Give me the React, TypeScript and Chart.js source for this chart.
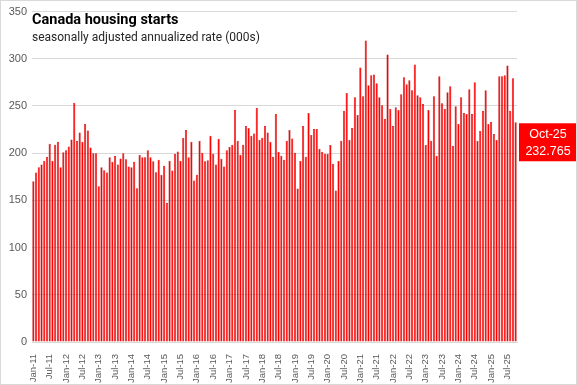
import React, { useEffect, useRef } from 'react';
import { Chart, registerables } from 'chart.js';

Chart.register(...registerables);

const MONTHS = ['Jan', 'Feb', 'Mar', 'Apr', 'May', 'Jun', 'Jul', 'Aug', 'Sep', 'Oct', 'Nov', 'Dec'];
const FIRST_YEAR = 11;
const N_MONTHS = 178;
const categories: string[] = [];
for (let i = 0; i < N_MONTHS; i++) {
  categories.push(`${MONTHS[i % 12]}-${FIRST_YEAR + Math.floor(i / 12)}`);
}

const TITLE = 'Canada housing starts';
const SUBTITLE = 'seasonally adjusted annualized rate (000s)';
const yTicks = [0, 50, 100, 150, 200, 250, 300, 350];

const starts2011to2014 = [
  170.4, 179.5, 185, 188, 192, 196, 210, 192, 209, 212, 185, 201,
  203, 207, 214.5, 253.5, 213, 222, 212, 231, 224, 206, 200, 200,
  165, 185, 182, 179.5, 195.6, 191, 197, 188, 194.5, 200, 193.5, 186,
  185, 191, 163, 198, 195.6, 195.6, 203, 195.6, 191.4, 179.8, 193.1, 177.3,
];
const starts2015to2018 = [
  186.8, 147.2, 192.1, 181.6, 199.5, 201.9, 192.1, 216.3, 224.7, 195.6, 212.1, 171.0,
  177.3, 213.1, 200.5, 191.4, 192.4, 218.4, 199.5, 187.9, 215.3, 194.2, 185.8, 203.0,
  206.8, 208.9, 245.8, 213.1, 198.4, 208.9, 228.9, 226.8, 218.4, 220.9, 247.9, 214.2,
  216.3, 228.9, 221.9, 212.1, 196.3, 241.9, 201.5, 197.3, 193.1, 213.1, 224.6, 215.5,
];
const starts2019to2022 = [
  200.4, 162.6, 192.0, 228.8, 196.2, 242.5, 219.4, 225.7, 225.7, 204.6, 201.5, 199.4,
  199.4, 208.8, 188.9, 160.5, 192.0, 213.1, 245.0, 263.9, 214.1, 226.7, 259.3, 240.4,
  290.9, 260.4, 319.3, 272.0, 282.5, 283.5, 274.1, 259.3, 250.9, 236.2, 304.6, 246.7,
  228.8, 248.8, 245.7, 262.5, 280.4, 273.0, 277.2, 266.7, 294.0, 261.4, 259.3, 252.0,
];
const starts2023to2025 = [
  208.8, 245.7, 213.1, 260.4, 197.3, 281.4, 253.0, 246.7, 264.6, 270.9, 207.8, 249.8,
  230.9, 259.3, 242.5, 241.4, 267.7, 241.4, 275.1, 213.1, 223.6, 244.6, 266.7, 230.9,
  233.0, 220.4, 214.1, 281.4, 281.4, 282.5, 293.0, 244.6, 279.3, 232.765,
];
const housingStarts = [...starts2011to2014, ...starts2015to2018, ...starts2019to2022, ...starts2023to2025];

const RED = '#ff0000';
const DARK_RED = '#c00000';
const GRID = '#d9d9d9';
const TICK = '#595959';
const FONT = '"Liberation Sans", Arial, sans-serif';

const decorPlugin = {
  id: 'decor',
  afterDatasetsDraw(chart: any) {
    const { ctx, chartArea, scales } = chart;
    ctx.save();
    // title & subtitle
    ctx.textAlign = 'left';
    ctx.textBaseline = 'alphabetic';
    ctx.fillStyle = '#000000';
    ctx.font = 'bold 14.5px Roboto, "Liberation Sans", sans-serif';
    ctx.fillText(TITLE, chartArea.left, 24);
    ctx.fillStyle = '#262626';
    ctx.font = '12px Roboto, "Liberation Sans", sans-serif';
    ctx.fillText(SUBTITLE, chartArea.left, 41);

    // last value box
    const lastIdx = housingStarts.length - 1;
    const lastVal = housingStarts[lastIdx];
    const yTop = scales.y.getPixelForValue(lastVal);
    const boxX = chartArea.right + 2;
    const boxW = chart.width - boxX;
    const boxH = 38;
    ctx.fillStyle = RED;
    ctx.fillRect(boxX, yTop + 1, boxW, boxH);
    ctx.fillStyle = '#ffffff';
    ctx.font = `12.5px ${FONT}`;
    ctx.textAlign = 'center';
    ctx.textBaseline = 'middle';
    const cx = boxX + boxW / 2;
    ctx.fillText(categories[lastIdx], cx, yTop + 12);
    ctx.fillText(String(lastVal), cx, yTop + 29);

    // outer border
    ctx.strokeStyle = GRID;
    ctx.lineWidth = 1;
    ctx.strokeRect(0.5, 0.5, chart.width - 1, chart.height - 1);
    ctx.restore();
  },
};

export default function App() {
  const canvasRef = useRef<HTMLCanvasElement | null>(null);

  useEffect(() => {
    document.body.style.margin = '0';
    const canvas = canvasRef.current;
    if (!canvas) return;
    const chart = new Chart(canvas, {
      type: 'bar',
      data: {
        labels: categories,
        datasets: [
          {
            data: housingStarts,
            backgroundColor: RED,
            borderColor: DARK_RED,
            borderWidth: 0.5,
            borderSkipped: 'bottom',
            barPercentage: 0.8,
            categoryPercentage: 1,
          },
        ],
      },
      options: {
        animation: false,
        responsive: false,
        maintainAspectRatio: false,
        layout: { padding: { left: 0, right: 60, top: 10, bottom: 0 } },
        plugins: {
          legend: { display: false },
          title: { display: false },
          tooltip: { enabled: false },
        },
        scales: {
          x: {
            grid: { display: false },
            border: { display: true, color: GRID },
            ticks: {
              autoSkip: false,
              minRotation: 90,
              maxRotation: 90,
              padding: 4,
              color: TICK,
              font: { family: FONT, size: 9.5 },
              callback: (_v: any, i: number) => (i % 6 === 0 ? categories[i] : ''),
            },
            afterFit: (s: any) => {
              s.height = 43;
            },
          },
          y: {
            min: 0,
            max: 350,
            afterBuildTicks: (s: any) => {
              s.ticks = yTicks.map((v) => ({ value: v }));
            },
            grid: { color: GRID, drawTicks: false },
            border: { display: false },
            ticks: {
              padding: 5,
              color: TICK,
              font: { family: FONT, size: 11 },
            },
            afterFit: (s: any) => {
              s.width = 32;
            },
          },
        },
      },
      plugins: [decorPlugin],
    });
    return () => chart.destroy();
  }, []);

  return (
    <div style={{ width: 577, height: 385, background: '#ffffff' }}>
      <canvas ref={canvasRef} width={577} height={385} style={{ display: 'block' }} />
    </div>
  );
}
